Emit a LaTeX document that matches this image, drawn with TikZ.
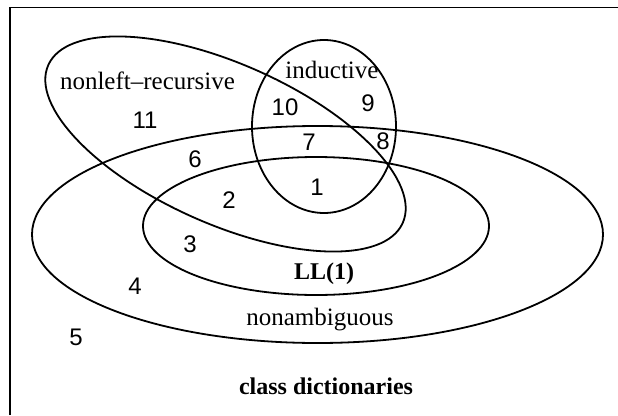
\documentclass[tikz,border=0pt]{standalone}
\usepackage{fontspec}
\setmainfont{Liberation Serif}
\newfontfamily\numfont{Liberation Sans}

\begin{document}
\begin{tikzpicture}[x=1pt,y=-1pt,line width=1.8pt,
  num/.style={font=\numfont\fontsize{24}{28}\selectfont,anchor=base,inner sep=0pt},
  txt/.style={font=\fontsize{25}{29}\selectfont,anchor=base,inner sep=0pt},
  bold/.style={txt,font=\fontsize{24}{28}\selectfont\bfseries}]
\useasboundingbox (0,0) rectangle (618,415);
\coordinate (FL) at (10,415); \coordinate (FC) at (10,7.5); \coordinate (FR) at (618,7.5);
\coordinate (NA) at (317.5,234.5); \coordinate (LL) at (316,226); \coordinate (IN) at (324,126.5); \coordinate (NL) at (225.5,144);
\draw (FL)--(FC)--(FR);
\draw (NA) ellipse (285.5pt and 108.5pt);
\draw (LL) ellipse (173pt and 69pt);
\draw (IN) ellipse (72pt and 86.5pt);
\draw[rotate around={-24:(NL)}] (NL) ellipse (194pt and 80pt);
\node[txt] (tnl) at (147.5,89) {nonleft--recursive};
\node[txt] (tin) at (332,78.5) {inductive};
\node[bold] (tll) at (324,279) {LL(1)};
\node[txt] (tna) at (320,325) {nonambiguous};
\node[bold] (tcd) at (326,394) {class dictionaries};
\node[num] (n1) at (317,195.5) {1};
\node[num] (n2) at (229,208) {2};
\node[num] (n3) at (190,252) {3};
\node[num] (n4) at (135,294) {4};
\node[num] (n5) at (76,345) {5};
\node[num] (n6) at (195,167) {6};
\node[num] (n7) at (309,150.5) {7};
\node[num] (n8) at (383,149) {8};
\node[num] (n9) at (368,111.5) {9};
\node[num] (n10) at (285,115) {10};
\node[num] (n11) at (145,128) {11};
\end{tikzpicture}
\end{document}
